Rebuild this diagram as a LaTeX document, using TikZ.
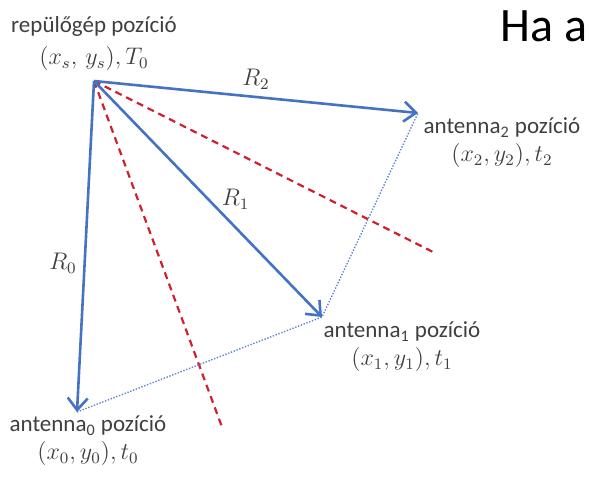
\documentclass[tikz,border=0pt]{standalone}
\usepackage{fontspec}
\setmainfont{Carlito}
\usepackage{tikz}
\usetikzlibrary{arrows.meta,positioning}

\definecolor{rayblue}{HTML}{4472C4}
\definecolor{hypred}{HTML}{D0202E}
\definecolor{labelgray}{HTML}{3F3F3F}

\begin{document}
\begin{tikzpicture}[
    x=0.5pt, y=-0.5pt,
    every node/.style={align=center, text=labelgray, font=\fontsize{11.5}{14}\selectfont},
    arr/.style={-{Straight Barb[length=6pt,width=10pt]}, line width=1.3pt, rayblue},
    hyp/.style={hypred, line width=1.1pt, dash pattern=on 3.5pt off 2.5pt},
    base/.style={rayblue!85, line width=0.7pt, dash pattern=on 0.7pt off 0.8pt},
]
\useasboundingbox (0,0) rectangle (590,477);

% Positions
\coordinate (plane) at (94,81);
\coordinate (ant0) at (77,412);
\coordinate (ant1) at (322,317);
\coordinate (ant2) at (418,113);
\coordinate (hyp01) at (222,427);
\coordinate (hyp12) at (435,253);

% Labels
\node (planelabel) at (94,44) {repülőgép pozíció\\[2pt]$(x_s,\, y_s), T_0$};
\node (ant2label) at (502,143) {antenna\textsubscript{2} pozíció\\$(x_2,y_2),t_2$};
\node (ant1label) at (402,347) {antenna\textsubscript{1} pozíció\\$(x_1,y_1),t_1$};
\node (ant0label) at (88,441) {antenna\textsubscript{0} pozíció\\$(x_0,y_0),t_0$};
\node (title) [anchor=east, inner sep=0pt, text=black, font=\fontsize{24}{28}\selectfont] at (588,26) {Ha a};

% Hyperbola lines (red, dashed)
\draw[hyp] (plane) -- (hyp01);
\draw[hyp] (plane) -- (hyp12);

% Baselines between antennas
\draw[base] (ant0) -- (ant1) -- (ant2);

% Ranges
\draw[arr] (plane) -- node[midway, above] {$R_2$} (ant2);
\draw[arr] (plane) -- node[midway, right=3pt] {$R_1$} (ant1);
\draw[arr] (plane) -- node[pos=0.55, left] {$R_0$} (ant0);
\end{tikzpicture}
\end{document}
